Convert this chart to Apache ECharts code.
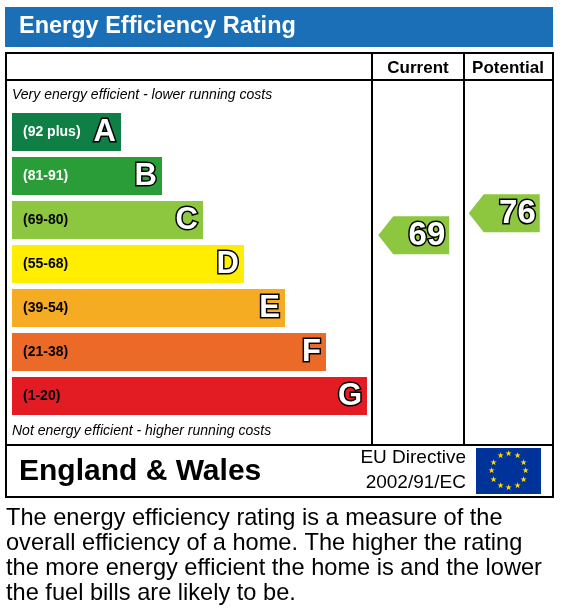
<!DOCTYPE html>
<html>
<head>
<meta charset="utf-8">
<script src="https://cdn.jsdelivr.net/npm/echarts@6/dist/echarts.min.js"></script>
<style>html,body{margin:0;padding:0;background:#fff}#chart{width:564px;height:612px}</style>
</head>
<body>
<div id="chart"></div>
<script>
// bands, top to bottom
var bandLetters = ['A', 'B', 'C', 'D', 'E', 'F', 'G'];
var bandRanges = ['(92 plus)', '(81-91)', '(69-80)', '(55-68)', '(39-54)', '(21-38)', '(1-20)'];
var bandLengths = [109, 150, 191, 232, 273, 314, 355];
var bandColors = ['#0f7f46', '#2a9d38', '#8dc63f', '#ffee00', '#f5ac22', '#ec6a27', '#e31b23'];
var currentRating = 69;
var potentialRating = 76;
var ratingColor = '#8dc63f';
var textLines = [
  'The energy efficiency rating is a measure of the',
  'overall efficiency of a home. The higher the rating',
  'the more energy efficient the home is and the lower',
  'the fuel bills are likely to be.'
];

var FONT = '"Liberation Sans", Arial, sans-serif';
var myChart = echarts.init(document.getElementById('chart'));

function line(x1, y1, x2, y2) {
  return { type: 'line', shape: { x1: x1, y1: y1, x2: x2, y2: y2 }, style: { stroke: '#000', lineWidth: 2 } };
}
function txt(x, y, t, size, weight, align, color, extra) {
  var s = { text: t, x: x, y: y, fill: color || '#000', font: (weight || 'normal') + ' ' + size + 'px ' + FONT,
    textAlign: align || 'left', textVerticalAlign: 'middle' };
  if (extra) Object.assign(s, extra);
  return { type: 'text', style: s };
}

var graphics = [
  { type: 'rect', shape: { x: 5, y: 7, width: 548, height: 40 }, style: { fill: '#1a6fb7' } },
  txt(19, 27, 'Energy Efficiency Rating', 23.5, 'bold', 'left', '#fff'),
  { type: 'rect', shape: { x: 6, y: 53, width: 547, height: 444 }, style: { fill: 'none', stroke: '#000', lineWidth: 2 } },
  line(6, 80, 553, 80),
  line(6, 445, 553, 445),
  line(372, 53, 372, 445),
  line(464, 53, 464, 445),
  txt(418, 68, 'Current', 17, 'bold', 'center'),
  txt(508, 68, 'Potential', 17, 'bold', 'center'),
  txt(12, 95, 'Very energy efficient - lower running costs', 14, 'italic', 'left'),
  txt(12, 431, 'Not energy efficient - higher running costs', 14, 'italic', 'left'),
  txt(19, 472, 'England & Wales', 30, 'bold', 'left'),
  txt(466, 458, 'EU Directive', 19, 'normal', 'right'),
  txt(466, 483, '2002/91/EC', 19, 'normal', 'right'),
  { type: 'rect', shape: { x: 476, y: 448, width: 65, height: 46 }, style: { fill: '#003399' } }
];
for (var i = 0; i < 12; i++) {
  var a = i * Math.PI / 6;
  graphics.push(txt(508.5 + 17 * Math.sin(a), 471 - 17 * Math.cos(a), '★', 8, 'normal', 'center', '#ffdd00'));
}
textLines.forEach(function (t, k) {
  graphics.push(txt(6, 518 + k * 25, t, 23.6, 'normal', 'left'));
});

function arrowItem(params, api) {
  var p = api.coord([api.value(0), api.value(1)]);
  var h = 38, cy = p[1], left = p[0] - 39, right = p[0] + 32;
  return {
    type: 'group',
    children: [
      { type: 'polygon', shape: { points: [[left, cy], [left + 15, cy - h / 2], [right, cy - h / 2], [right, cy + h / 2], [left + 15, cy + h / 2]] },
        style: { fill: ratingColor } },
      { type: 'text', style: { text: String(api.value(1)), x: right - 4, y: cy + 1, textAlign: 'right', textVerticalAlign: 'middle',
        font: 'bold 33px ' + FONT, fill: '#fff', stroke: '#000', lineWidth: 3 } }
    ]
  };
}

var option = {
  animation: false,
  graphic: graphics,
  grid: [
    { left: 12, top: 110, width: 360, height: 308 },
    { left: 372, top: 138, width: 181, height: 314 }
  ],
  xAxis: [
    { gridIndex: 0, type: 'value', min: 0, max: 360, show: false },
    { gridIndex: 1, type: 'value', min: 0, max: 2, show: false }
  ],
  yAxis: [
    { gridIndex: 0, type: 'category', data: bandLetters, inverse: true, show: false },
    { gridIndex: 1, type: 'value', min: 0, max: 100, show: false }
  ],
  series: [
    {
      type: 'bar', xAxisIndex: 0, yAxisIndex: 0, barWidth: 38,
      data: bandLengths.map(function (v, k) {
        return { value: v, itemStyle: { color: bandColors[k] } };
      }),
      label: {
        show: true, position: 'insideLeft', distance: 11,
        formatter: function (p) { return bandRanges[p.dataIndex]; },
        fontFamily: FONT, fontWeight: 'bold', fontSize: 14,
        color: '#fff'
      }
    },
    {
      type: 'bar', xAxisIndex: 0, yAxisIndex: 0, barWidth: 38, barGap: '-100%',
      data: bandLengths.map(function (v) { return { value: v, itemStyle: { color: 'transparent' } }; }),
      label: {
        show: true, position: 'insideRight', distance: 5,
        formatter: function (p) { return bandLetters[p.dataIndex]; },
        fontFamily: FONT, fontWeight: 'bold', fontSize: 31,
        color: '#fff', textBorderColor: '#000', textBorderWidth: 3
      }
    },
    {
      type: 'custom', xAxisIndex: 1, yAxisIndex: 1,
      renderItem: arrowItem,
      data: [[0.5, currentRating], [1.5, potentialRating]]
    }
  ]
};
// dark text on the lighter bands
option.series[0].data.forEach(function (d, k) {
  if (k >= 2) d.label = { color: '#000' };
});
myChart.setOption(option);
</script>
</body>
</html>
